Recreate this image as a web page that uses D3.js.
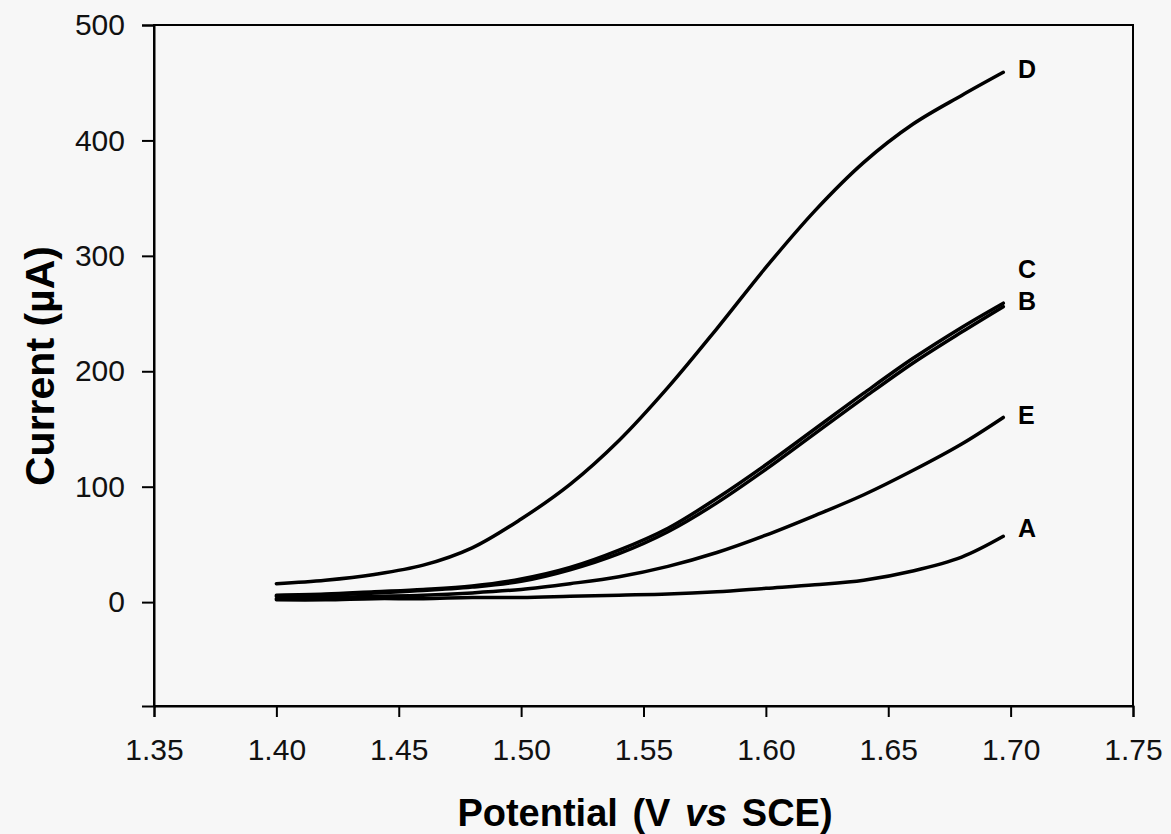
<!DOCTYPE html>
<html>
<head>
<meta charset="utf-8">
<script src="https://cdn.jsdelivr.net/npm/d3@7"></script>
<style>
  body { margin: 0; background: #f7f7f7; }
  svg { font-family: "Liberation Sans", Arial, sans-serif; }
</style>
</head>
<body>
<svg id="chart"></svg>
<script>
// potential (V vs SCE) sample points
var potential = [1.40, 1.42, 1.44, 1.46, 1.48, 1.50, 1.52, 1.54, 1.56, 1.58, 1.60, 1.62, 1.64, 1.66, 1.68, 1.697];

// current (uA) per curve
var curveA = [2, 2, 3, 3, 4, 4, 5, 6, 7, 9, 12, 15, 19, 27, 39, 57];
var curveB = [5, 6, 8, 10, 13, 18, 28, 42, 61, 86, 115, 146, 177, 207, 234, 256];
var curveC = [6, 7, 9, 11, 14, 20, 30, 45, 64, 90, 119, 150, 181, 211, 238, 259];
var curveD = [16, 19, 24, 32, 47, 72, 102, 140, 186, 237, 290, 339, 381, 414, 439, 459];
var curveE = [3, 4, 5, 6, 8, 11, 16, 22, 31, 43, 58, 75, 93, 114, 137, 160];

var xTicks = [1.35, 1.40, 1.45, 1.50, 1.55, 1.60, 1.65, 1.70, 1.75];
var yTicks = [0, 100, 200, 300, 400, 500];

var series = [
  {name: "A", values: curveA, dy: 1},
  {name: "B", values: curveB, dy: 3},
  {name: "C", values: curveC, dy: -25},
  {name: "D", values: curveD, dy: 6},
  {name: "E", values: curveE, dy: 7}
];

var screen = {width: 1171, height: 834};
var plot = {left: 154, right: 1133, top: 25, bottom: 706};

var svg = d3.select("#chart")
    .attr("width", screen.width)
    .attr("height", screen.height);

svg.append("rect")
    .attr("width", screen.width)
    .attr("height", screen.height)
    .attr("fill", "#f7f7f7");

var xScale = d3.scaleLinear()
    .domain([1.35, 1.75])
    .range([plot.left, plot.right]);

var yScale = d3.scaleLinear()
    .domain([-90, 500])
    .range([plot.bottom, plot.top]);

// frame
svg.append("rect")
    .attr("x", plot.left)
    .attr("y", plot.top)
    .attr("width", plot.right - plot.left)
    .attr("height", plot.bottom - plot.top)
    .attr("fill", "none")
    .attr("stroke", "black")
    .attr("stroke-width", 2);

var xAxis = d3.axisBottom(xScale)
    .tickValues(xTicks)
    .tickSize(11)
    .tickPadding(22)
    .tickFormat(d3.format(".2f"));

var yAxis = d3.axisLeft(yScale)
    .tickValues(yTicks)
    .tickSize(12)
    .tickPadding(17);

var gx = svg.append("g")
    .attr("transform", "translate(0," + plot.bottom + ")")
    .call(xAxis);

var gy = svg.append("g")
    .attr("transform", "translate(" + plot.left + ",0)")
    .call(yAxis);

[gx, gy].forEach(function(g){
  g.select(".domain").attr("stroke", "black").attr("stroke-width", 2);
  g.selectAll(".tick line").attr("stroke", "black").attr("stroke-width", 2);
  g.selectAll(".tick text")
    .attr("fill", "#111")
    .style("font-size", "30px")
    .style("font-family", "'Liberation Sans', Arial, sans-serif");
});

var line = d3.line()
    .curve(d3.curveCatmullRom.alpha(0.5))
    .x(function(d, i){ return xScale(potential[i]); })
    .y(function(d){ return yScale(d); });

svg.append("g")
    .selectAll("path")
    .data(series)
    .enter()
    .append("path")
    .attr("fill", "none")
    .attr("stroke", "black")
    .attr("stroke-width", 3.5)
    .attr("stroke-linecap", "round")
    .attr("d", function(s){ return line(s.values); });

// curve labels
svg.append("g")
    .selectAll("text")
    .data(series)
    .enter()
    .append("text")
    .attr("x", 1018)
    .attr("y", function(s){ return yScale(s.values[s.values.length - 1]) + s.dy; })
    .attr("font-size", "25px")
    .attr("font-weight", "bold")
    .attr("fill", "black")
    .text(function(s){ return s.name; });

// axis titles
var xt = svg.append("text")
    .attr("x", 645)
    .attr("y", 826)
    .attr("text-anchor", "middle")
    .attr("font-size", "38px")
    .attr("font-weight", "bold")
    .attr("word-spacing", "4px")
    .attr("fill", "black");
xt.append("tspan").text("Potential (V ");
xt.append("tspan").attr("font-style", "italic").text("vs");
xt.append("tspan").text(" SCE)");

svg.append("text")
    .attr("transform", "translate(54,366) rotate(-90)")
    .attr("text-anchor", "middle")
    .attr("font-size", "41px")
    .attr("font-weight", "bold")
    .attr("fill", "black")
    .text("Current (\u00b5A)");
</script>
</body>
</html>
